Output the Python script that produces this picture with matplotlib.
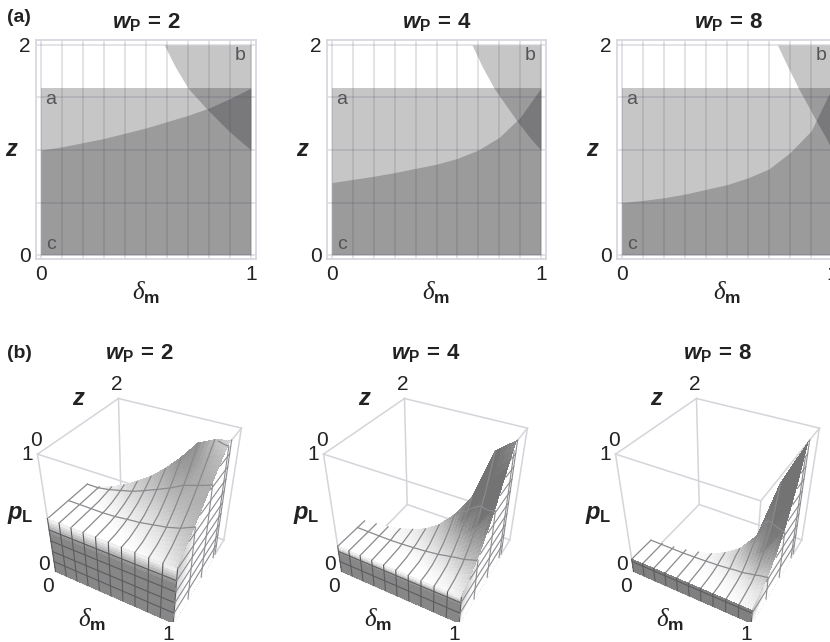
import numpy as np
import matplotlib
matplotlib.use("Agg")
import matplotlib.pyplot as plt

W, H = 830, 642
plt.rcParams['font.family'] = ['Liberation Sans', 'DejaVu Sans']
plt.rcParams['mathtext.fontset'] = 'custom'
plt.rcParams['mathtext.it'] = 'Liberation Sans:italic:bold'
plt.rcParams['mathtext.bf'] = 'Liberation Sans:bold'
plt.rcParams['mathtext.rm'] = 'Liberation Sans:bold'
plt.rcParams['mathtext.cal'] = 'Liberation Serif:italic'

wp_values = [2, 4, 8]
delta = [0, .1, .2, .3, .4, .5, .6, .7, .8, .9, 1]
a_top = 1.59

# boundary of region c for each wp
c_curve = {
    2: [1.0, 1.03, 1.07, 1.11, 1.16, 1.21, 1.27, 1.33, 1.40, 1.49, 1.59],
    4: [.69, .72, .75, .785, .825, .865, .92, 1.0, 1.12, 1.31, 1.59],
    8: [.5, .52, .545, .58, .625, .67, .735, .82, .975, 1.18, 1.59],
}
# boundary of region b
b_delta = {
    2: [.587, .64, .70, .79, .9, 1],
    4: [.67, .72, .775, .884, .95, 1],
    8: [.74, .79, .84, .933, .97, 1],
}
b_z = {
    2: [2, 1.79, 1.59, 1.39, 1.17, 1],
    4: [2, 1.79, 1.59, 1.28, 1.11, 1],
    8: [2, 1.79, 1.59, 1.25, 1.12, 1],
}

# p_L, rows go from z=0 up to the c boundary, columns are delta
p2 = [[.50, .50, .50, .50, .50, .50, .50, .50, .50, .50, .50],
      [.50, .50, .50, .50, .50, .50, .50, .51, .52, .54, .58],
      [.50, .50, .50, .50, .50, .51, .52, .54, .56, .60, .66],
      [.50, .50, .50, .50, .51, .53, .55, .58, .63, .68, .75],
      [.50, .50, .50, .51, .53, .56, .60, .65, .72, .78, .84],
      [.50, .50, .51, .53, .56, .61, .67, .74, .83, .89, .93],
      [.50, .50, .52, .56, .61, .67, .75, .85, .97, 1.0, 1.0]]
p4 = [[.25, .25, .25, .25, .25, .25, .25, .25, .25, .25, .25],
      [.25, .25, .25, .25, .25, .25, .25, .25, .26, .27, .30],
      [.25, .25, .25, .25, .25, .25, .25, .26, .28, .31, .38],
      [.25, .25, .25, .25, .25, .26, .27, .29, .33, .39, .50],
      [.25, .25, .25, .25, .26, .27, .29, .33, .40, .50, .65],
      [.25, .25, .25, .26, .27, .29, .33, .39, .50, .70, .83],
      [.25, .25, .25, .26, .28, .31, .37, .47, .62, .96, 1.0]]
p8 = [[.125, .125, .125, .125, .125, .125, .125, .125, .125, .125, .125],
      [.125, .125, .125, .125, .125, .125, .125, .125, .13, .14, .16],
      [.125, .125, .125, .125, .125, .125, .125, .13, .14, .16, .22],
      [.125, .125, .125, .125, .125, .125, .13, .14, .16, .21, .32],
      [.125, .125, .125, .125, .125, .13, .14, .16, .21, .31, .47],
      [.125, .125, .125, .125, .13, .14, .16, .20, .28, .45, .70],
      [.125, .125, .125, .125, .13, .14, .17, .22, .33, .75, 1.0]]
p_tables = {2: p2, 4: p4, 8: p8}

# x pixel of delta=0 and delta=1 in row (a), shift of the 3d panels in row (b)
a_x0 = {2: 41, 4: 332, 8: 622}
a_x1 = {2: 251, 4: 541, 8: 832}
a_title_x = {2: 147, 4: 437, 8: 729}
b_shift = {2: 0, 4: 286, 8: 578}

fig = plt.figure(figsize=(W / 100, H / 100), dpi=100)


def put(x, y, s, **kw):
    kw.setdefault('ha', 'center')
    kw.setdefault('va', 'center')
    kw.setdefault('color', '#222222')
    fig.text(x / W, 1 - y / H, s, **kw)


def title(wp):
    return r'$w_{\mathbf{P}}\mathbf{\,=\,%d}$' % wp


def draw_top(wp):
    x0, x1 = a_x0[wp], a_x1[wp]
    sx = x1 - x0
    left, right = x0 - 5, x1 + 5
    ax = fig.add_axes([left / W, 1 - 259 / H, (right - left) / W, 219 / H])
    ax.set_xlim(-5 / sx, 1 + 5 / sx)
    ax.set_ylim(-4 / 105, 215 / 105)
    fill = dict(color='#0c0c10', alpha=.23, lw=0, zorder=1)
    ax.fill_between([0, 1], 0, a_top, **fill)
    ax.fill_between(delta, 0, c_curve[wp], **fill)
    ax.fill_between(b_delta[wp], b_z[wp], 2, **fill)
    for d in delta:
        ax.axvline(d, color='#40405a', alpha=.14, lw=1.4, zorder=2)
    for z in [0, .5, 1, 1.5, 2]:
        ax.axhline(z, color='#40405a', alpha=.14, lw=1.4, zorder=2)
    for sp in ax.spines.values():
        sp.set_color('#d8d8e0')
        sp.set_linewidth(1.3)
    ax.set_xticks([0, 1])
    ax.set_yticks([0, 2])
    ax.tick_params(length=0, labelsize=15, pad=4, colors='#222222')
    for name, x, z in [('a', .046, 1.48), ('b', .948, 1.9), ('c', .046, .1)]:
        ax.text(x, z, name, color='#555558', fontsize=14, ha='center', va='center', zorder=3)
    put(a_title_x[wp], 23, title(wp), fontsize=16)
    put(x0 - 29, 150, r'$z$', fontsize=17)
    put((x0 + x1) / 2, 293, r'$\mathcal{\delta}_{\mathbf{m}}$', fontsize=18)


def refine(a, n=4):
    a = np.asarray(a, dtype=float)
    rows = np.arange(a.shape[0])
    cols = np.arange(a.shape[1])
    r = np.linspace(0, rows[-1], rows[-1] * n + 1)
    c = np.linspace(0, cols[-1], cols[-1] * n + 1)
    tmp = np.array([np.interp(r, rows, a[:, j]) for j in cols]).T
    return np.array([np.interp(c, cols, row) for row in tmp])


def draw_bottom(wp):
    dx = b_shift[wp]
    # camera and axes box fitted to the corners of the cube
    size = 231
    left, top_px = 25.4 + dx, 390.8
    ax = fig.add_axes([left / W, 1 - (top_px + size) / H, size / W, size / H],
                      projection='3d', computed_zorder=False)
    ax.set_proj_type('persp', focal_length=.356)
    ax.view_init(elev=36.9, azim=-61.8, roll=-.73)
    ax.set_xlim(0, 1, view_margin=0)
    ax.set_ylim(0, 2, view_margin=0)
    ax.set_zlim(0, 1, view_margin=0)
    ax.set_box_aspect((1, .976, 1.038))
    ax.set_axis_off()
    ax.patch.set_alpha(0)

    box = dict(color='#d4d4da', lw=1.1)
    for a, b in [((0, 2, 0), (1, 2, 0)), ((0, 2, 0), (0, 0, 0)), ((0, 2, 0), (0, 2, 1)),
                 ((1, 2, 0), (1, 2, 1)), ((0, 0, 0), (0, 0, 1)), ((0, 2, 1), (1, 2, 1)),
                 ((0, 2, 1), (0, 0, 1)), ((1, 0, 1), (0, 0, 1)), ((1, 0, 1), (1, 2, 1)),
                 ((1, 0, 1), (1, 0, 0)), ((0, 0, 0), (1, 0, 0)), ((1, 0, 0), (1, 2, 0))]:
        ax.plot(*zip(a, b), zorder=1, **box)

    p = np.array(p_tables[wp], dtype=float)
    c = np.array(c_curve[wp], dtype=float)
    d = np.array(delta, dtype=float)
    s = np.linspace(0, 1, p.shape[0])
    x = np.tile(d, (p.shape[0], 1))
    y = np.outer(s, c)
    plateau = p[0, 0]

    # shade from how steep the surface is
    dpz = np.gradient(p, axis=0) * 6
    dpx = np.gradient(p, axis=1) * 10
    gray = 1 - np.clip(.3 * (dpz + .75 * dpx), 0, .55)
    X, Y, Z, G = refine(x), refine(y), refine(p), refine(gray)
    ax.plot_surface(X, Y, Z, facecolors=plt.cm.gray(G), rstride=1, cstride=1, shade=False,
                    linewidth=0, antialiased=False, zorder=2)

    line = dict(color='#8a8a8e', lw=.9, zorder=3)
    for j in range(len(d)):
        ax.plot(x[:, j], y[:, j], p[:, j], **line)
    for z in [.5, 1, 1.5]:
        keep = Y[-1] >= z
        zs = [np.interp(z, Y[:, j], Z[:, j]) for j in np.where(keep)[0]]
        ax.plot(X[0][keep], np.full(keep.sum(), z), zs, **line)

    # front wall at z=0
    frac = np.linspace(0, 1, 25)
    fx, ff = np.meshgrid(np.linspace(0, 1, 21), frac)
    fg = np.where(ff < .72, .53, .53 + .47 * (ff - .72) / .28)
    if plateau < .2:
        fg = np.full(ff.shape, .5)
    ax.plot_surface(fx, np.zeros_like(fx), ff * plateau, facecolors=plt.cm.gray(fg), rstride=1, cstride=1,
                    shade=False, linewidth=0, antialiased=False, zorder=4)
    wall_line = dict(color='#5c5c60', lw=.8, zorder=5)
    for v in d:
        ax.plot([v, v], [0, 0], [0, plateau], **wall_line)
    for level in np.arange(.1, plateau - .01, .1):
        ax.plot([0, 1], [0, 0], [level, level], **wall_line)

    # side wall at delta=1
    top = p[:, -1]
    wy = s * c[-1]
    sy = np.linspace(0, c[-1], 33)
    sf = np.linspace(0, 1, 25)
    gy, gf = np.meshgrid(sy, sf)
    gz = gf * np.interp(gy, wy, top)
    gg = np.clip(.78 + .5 * gy / c[-1] + .2 * (1 - gf), 0, 1)
    ax.plot_surface(np.ones_like(gy), gy, gz, facecolors=plt.cm.gray(gg), rstride=1, cstride=1,
                    shade=False, linewidth=0, antialiased=False, zorder=4)
    side_line = dict(color='#8c8c90', lw=.8, zorder=5)
    for level in np.arange(.1, .95, .1):
        start = np.interp(level, top, wy) if level > top[0] else 0
        ax.plot([1, 1], [start, c[-1]], [level, level], **side_line)
    for z in [.5, 1, 1.5, c[-1]]:
        ax.plot([1, 1], [z, z], [0, np.interp(z, wy, top)], **side_line)

    put(140 + dx, 354, title(wp), fontsize=16)
    put(117 + dx, 385, '2', fontsize=15)
    put(79 + dx, 399, r'$z$', fontsize=17)
    put(36 + dx, 441, '0', fontsize=15)
    put(27 + dx, 455, '1', fontsize=15)
    put(20 + dx, 515, r'$p_{\mathbf{L}}$', fontsize=17)
    put(44 + dx, 565, '0', fontsize=15)
    put(48 + dx, 586, '0', fontsize=15)
    put(92 + dx, 620, r'$\mathcal{\delta}_{\mathbf{m}}$', fontsize=18)
    put(168 + dx, 634, '1', fontsize=15)


for wp in wp_values:
    draw_top(wp)
    draw_bottom(wp)

put(7, 17, '(a)', fontsize=14, fontweight='bold', ha='left')
put(7, 353, '(b)', fontsize=14, fontweight='bold', ha='left')

fig.savefig("out.png", dpi=100)
